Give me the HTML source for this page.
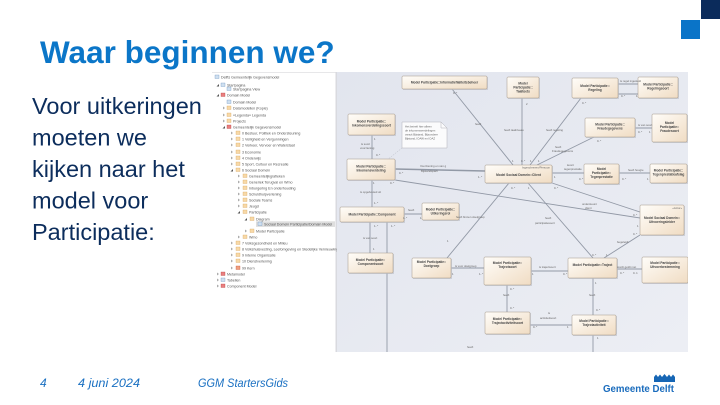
<!DOCTYPE html>
<html><head><meta charset="utf-8"><style>
html,body{margin:0;padding:0;background:#fff;}
body{width:720px;height:405px;overflow:hidden;}
svg{display:block;}
.t{font-family:"Liberation Sans",Arial,sans-serif;}
.tr{font-family:"Liberation Sans",Arial,sans-serif;font-size:3.6px;fill:#555;}
.nt{font-family:"Liberation Sans",Arial,sans-serif;font-size:3.2px;font-weight:bold;fill:#444;text-anchor:middle;}
.el{font-family:"Liberation Sans",Arial,sans-serif;font-size:2.8px;fill:#666;}
.e{stroke:#9299a6;stroke-width:0.9;fill:none;}
</style></head><body>
<svg width="720" height="405" viewBox="0 0 720 405" xmlns="http://www.w3.org/2000/svg">
<defs>
<linearGradient id="ng" x1="0" y1="0" x2="1" y2="1"><stop offset="0" stop-color="#fffdf9"/><stop offset="1" stop-color="#f0dcc3"/></linearGradient>
<linearGradient id="bg" x1="0" y1="0" x2="1" y2="1"><stop offset="0" stop-color="#e2e5ee"/><stop offset="1" stop-color="#eceef4"/></linearGradient>
</defs>
<rect width="720" height="405" fill="#fff"/>
<rect x="701" y="0" width="19" height="19" fill="#0b2b5b"/>
<rect x="681" y="20" width="19" height="19" fill="#0a74c8"/>
<text class="t" x="40" y="63" font-size="31.5" font-weight="bold" fill="#0b76c8">Waar beginnen we?</text>
<g class="t" font-size="23.5" fill="#0c2d5c">
<text x="32" y="114">Voor uitkeringen</text>
<text x="32" y="145.5">moeten we</text>
<text x="32" y="177">kijken naar het</text>
<text x="32" y="208.5">model voor</text>
<text x="32" y="240">Participatie:</text>
</g>
<g class="t" font-size="12" font-style="italic" fill="#1a70c2">
<text x="40" y="387">4</text>
<text x="78" y="387" textLength="62" lengthAdjust="spacingAndGlyphs">4 juni 2024</text>
<text x="198" y="387" textLength="90" lengthAdjust="spacingAndGlyphs">GGM StartersGids</text>
</g>
<text class="t" x="603" y="392" font-size="10" font-weight="bold" fill="#1a6cbd" textLength="71" lengthAdjust="spacingAndGlyphs">Gemeente Delft</text>
<path d="M654,382 V377 L656,374.5 L658,377 L660,374.5 L662,377 L664.5,374 L667,377 L669,374.5 L671,377 L673,374.5 L675,377 V382 Z" fill="#1666b5"/>

<!-- screenshot: tree panel -->
<rect x="212" y="72" width="124" height="280" fill="#fff"/>
<line x1="212" y1="72.5" x2="336" y2="72.5" stroke="#d0d0d4" stroke-width="0.6"/>
<rect x="335.5" y="72" width="2" height="280" fill="#d9dadf"/>
<rect x="256" y="221.3" width="79" height="5.6" fill="#dedede"/>

<g>
<rect x="215" y="75" width="4" height="3.5" fill="#cfe0f0" stroke="#5a86b8" stroke-width="0.3"/>
<polygon points="219,84 219,86.5 216.5,86.5" fill="#555"/><rect x="221" y="83" width="4" height="3.5" fill="#cfe0f0" stroke="#5a86b8" stroke-width="0.3"/>
<rect x="227" y="87" width="4" height="3.5" fill="#cfe0f0" stroke="#5a86b8" stroke-width="0.3"/>
<polygon points="219,94 219,96.5 216.5,96.5" fill="#555"/><rect x="221" y="93" width="4" height="3.5" fill="#e98080" stroke="#b03030" stroke-width="0.3"/>
<rect x="227" y="100" width="4" height="3.5" fill="#cfe0f0" stroke="#5a86b8" stroke-width="0.3"/>
<polygon points="223,106.5 225,108 223,109.5" fill="#aaa"/><rect x="227" y="106" width="4" height="3.5" fill="#f7d9a8" stroke="#d49a4f" stroke-width="0.3"/>
<polygon points="223,113.5 225,115 223,116.5" fill="#aaa"/><rect x="227" y="113" width="4" height="3.5" fill="#f7d9a8" stroke="#d49a4f" stroke-width="0.3"/>
<polygon points="223,119.5 225,121 223,122.5" fill="#aaa"/><rect x="227" y="119" width="4" height="3.5" fill="#f7d9a8" stroke="#d49a4f" stroke-width="0.3"/>
<polygon points="225,126 225,128.5 222.5,128.5" fill="#555"/><rect x="227" y="125" width="4" height="3.5" fill="#e98080" stroke="#b03030" stroke-width="0.3"/>
<g fill="#aaa">
<polygon points="231,131.5 233,133 231,134.5"/><polygon points="231,137.5 233,139 231,140.5"/><polygon points="231,143.5 233,145 231,146.5"/><polygon points="231,150.5 233,152 231,153.5"/><polygon points="231,156.5 233,158 231,159.5"/><polygon points="231,162.5 233,164 231,165.5"/>
<polygon points="238,174.5 240,176 238,177.5"/><polygon points="238,180.5 240,182 238,183.5"/><polygon points="238,186.5 240,188 238,189.5"/><polygon points="238,192.5 240,194 238,195.5"/><polygon points="238,198.5 240,200 238,201.5"/><polygon points="238,204.5 240,206 238,207.5"/>
<polygon points="245,229.5 247,231 245,232.5"/><polygon points="238,235.5 240,237 238,238.5"/>
<polygon points="231,241.5 233,243 231,244.5"/><polygon points="231,247.5 233,249 231,250.5"/><polygon points="231,253.5 233,255 231,256.5"/><polygon points="231,259.5 233,261 231,262.5"/><polygon points="231,266.5 233,268 231,269.5"/>
<polygon points="217,272.5 219,274 217,275.5"/><polygon points="217,278.5 219,280 217,281.5"/><polygon points="217,284.5 219,286 217,287.5"/>
</g>
<g fill="#555"><polygon points="233,169 233,171.5 230.5,171.5"/><polygon points="240,211 240,213.5 237.5,213.5"/><polygon points="247,218 247,220.5 244.5,220.5"/></g>
<g fill="#f7d9a8" stroke="#d49a4f" stroke-width="0.3">
<rect x="236" y="131" width="4" height="3.5"/><rect x="236" y="137" width="4" height="3.5"/><rect x="236" y="143" width="4" height="3.5"/><rect x="236" y="150" width="4" height="3.5"/><rect x="236" y="156" width="4" height="3.5"/><rect x="236" y="162" width="4" height="3.5"/><rect x="236" y="168" width="4" height="3.5"/>
<rect x="243" y="174" width="4" height="3.5"/><rect x="243" y="180" width="4" height="3.5"/><rect x="243" y="186" width="4" height="3.5"/><rect x="243" y="192" width="4" height="3.5"/><rect x="243" y="198" width="4" height="3.5"/><rect x="243" y="204" width="4" height="3.5"/><rect x="243" y="210" width="4" height="3.5"/>
<rect x="250" y="217" width="4" height="3.5"/><rect x="250" y="229" width="4" height="3.5"/><rect x="243" y="235" width="4" height="3.5"/>
<rect x="236" y="241" width="4" height="3.5"/><rect x="236" y="247" width="4" height="3.5"/><rect x="236" y="253" width="4" height="3.5"/><rect x="236" y="259" width="4" height="3.5"/>
</g>
<rect x="236" y="266" width="4" height="3.5" fill="#f0a080" stroke="#c04020" stroke-width="0.3"/>
<rect x="258" y="222" width="4" height="3.5" fill="#cfe0f0" stroke="#5a86b8" stroke-width="0.3"/>
<rect x="221" y="272" width="4" height="3.5" fill="#e98080" stroke="#b03030" stroke-width="0.3"/>
<rect x="221" y="278" width="4" height="3.5" fill="#cfe0f0" stroke="#5a86b8" stroke-width="0.3"/>
<rect x="221" y="284" width="4" height="3.5" fill="#e98080" stroke="#b03030" stroke-width="0.3"/>
</g>
<g class="tr">
<text x="221" y="78.3">Delfts Gemeentelijk Gegevensmodel</text>
<text x="227" y="86.3">Startpagina</text>
<text x="233" y="90.3">Startpagina View</text>
<text x="227" y="96.3">Domain Model</text>
<text x="233" y="103.3">Domain Model</text>
<text x="233" y="109.3">Datamodellen (Kopie)</text>
<text x="233" y="116.3">«Legenda» Legenda</text>
<text x="233" y="122.3">Projects</text>
<text x="233" y="128.3">Gemeentelijk Gegevensmodel</text>
<text x="242" y="134.3">0 Bestuur, Politiek en Ondersteuning</text>
<text x="242" y="140.3">1 Veiligheid en Vergunningen</text>
<text x="242" y="146.3">2 Verkeer, Vervoer en Waterstaat</text>
<text x="242" y="153.3">3 Economie</text>
<text x="242" y="159.3">4 Onderwijs</text>
<text x="242" y="165.3">5 Sport, Cultuur en Recreatie</text>
<text x="242" y="171.3">6 Sociaal Domein</text>
<text x="249" y="177.3">Gemeentelijkgrafieken</text>
<text x="249" y="183.3">Generiek Terugval en Wmo</text>
<text x="249" y="189.3">Inburgering En onderhouding</text>
<text x="249" y="195.3">Schuldhulpverlening</text>
<text x="249" y="201.3">Sociale Teams</text>
<text x="249" y="207.3">Jeugd</text>
<text x="249" y="213.3">Participatie</text>
<text x="256" y="220.3">Diagram</text>
<text x="264" y="225.3">Sociaal Domein Participatie/Domain Model</text>
<text x="256" y="232.3">Model Participatie</text>
<text x="249" y="238.3">Wmo</text>
<text x="242" y="244.3">7 Volksgezondheid en Milieu</text>
<text x="242" y="250.3">8 Volkshuisvesting, Leefomgeving en Stedelijke Vernieuwing</text>
<text x="242" y="256.3">9 Interne Organisatie</text>
<text x="242" y="262.3">10 Dienstverlening</text>
<text x="242" y="269.3">99 Kern</text>
<text x="227" y="275.3">Metamodel</text>
<text x="227" y="281.3">Tabellen</text>
<text x="227" y="287.3">Component Model</text>
</g>

<!-- diagram -->
<svg x="337" y="72" width="351" height="280" viewBox="337 72 351 280" overflow="hidden">
<rect x="337" y="72" width="351" height="280" fill="url(#bg)"/>
<g class="e">
<line x1="452" y1="89" x2="513" y2="165"/>
<line x1="522" y1="98" x2="522" y2="165"/>
<line x1="581" y1="98" x2="530" y2="165"/>
<line x1="618" y1="84" x2="638" y2="84"/>
<line x1="618" y1="94" x2="638" y2="94"/>
<line x1="594" y1="137" x2="537" y2="165"/>
<line x1="635" y1="128" x2="652" y2="128"/>
<line x1="372" y1="135" x2="372" y2="159"/>
<line x1="395" y1="169" x2="485" y2="171" stroke-width="1.4"/>
<line x1="395" y1="180" x2="640" y2="218"/>
<line x1="372" y1="180" x2="372" y2="207"/>
<line x1="552" y1="173" x2="584" y2="173"/>
<line x1="619" y1="173" x2="650" y2="173"/>
<line x1="552" y1="183" x2="640" y2="212"/>
<line x1="509" y1="183" x2="447" y2="258"/>
<line x1="528" y1="183" x2="593" y2="258"/>
<line x1="404" y1="214" x2="422" y2="214"/>
<line x1="370" y1="222" x2="370" y2="253"/>
<line x1="387" y1="222" x2="387" y2="352"/>
<line x1="451" y1="268" x2="484" y2="268"/>
<line x1="531" y1="271" x2="568" y2="271"/>
<line x1="617" y1="269" x2="642" y2="269"/>
<line x1="640" y1="235" x2="604" y2="258"/>
<line x1="507" y1="285" x2="507" y2="312"/>
<line x1="593" y1="278" x2="593" y2="315"/>
<line x1="530" y1="325" x2="572" y2="325"/>
<line x1="593" y1="335" x2="593" y2="352"/>
</g>
<line x1="402" y1="148" x2="387" y2="160" stroke="#b8bcc6" stroke-width="0.5" stroke-dasharray="1.5,1"/>

<g fill="#c3c6cf" opacity="0.7">
<rect x="403" y="77" width="85" height="13"/><rect x="508" y="78" width="32" height="21"/><rect x="573" y="79" width="46" height="20"/><rect x="639" y="78" width="40" height="21"/>
<rect x="349" y="115" width="47" height="21"/><rect x="586" y="119" width="50" height="19"/><rect x="653" y="115" width="35" height="28"/>
<rect x="348" y="160" width="48" height="21"/><rect x="486" y="166" width="67" height="18"/><rect x="585" y="165" width="35" height="20"/><rect x="651" y="165" width="37" height="19"/>
<rect x="341" y="208" width="64" height="15"/><rect x="423" y="204" width="37" height="17"/><rect x="641" y="206" width="44" height="30"/>
<rect x="349" y="254" width="45" height="20"/><rect x="413" y="259" width="39" height="20"/><rect x="485" y="258" width="47" height="28"/><rect x="569" y="259" width="49" height="20"/><rect x="643" y="258" width="46" height="26"/>
<rect x="486" y="313" width="45" height="22"/><rect x="573" y="316" width="44" height="20"/>
</g>
<g fill="url(#ng)" stroke="#a29688" stroke-width="0.5">
<rect x="402" y="76" width="85" height="13" rx="1"/><rect x="507" y="77" width="32" height="21" rx="1"/><rect x="572" y="78" width="46" height="20" rx="1"/><rect x="638" y="77" width="40" height="21" rx="1"/>
<rect x="348" y="114" width="47" height="21" rx="1"/><rect x="585" y="118" width="50" height="19" rx="1"/><rect x="652" y="114" width="35" height="28" rx="1"/>
<rect x="347" y="159" width="48" height="21" rx="1"/><rect x="485" y="165" width="67" height="18" rx="1"/><rect x="584" y="164" width="35" height="20" rx="1"/><rect x="650" y="164" width="37" height="19" rx="1"/>
<rect x="340" y="207" width="64" height="15" rx="1"/><rect x="422" y="203" width="37" height="17" rx="1"/><rect x="640" y="205" width="44" height="30" rx="1"/>
<rect x="348" y="253" width="45" height="20" rx="1"/><rect x="412" y="258" width="39" height="20" rx="1"/><rect x="484" y="257" width="47" height="28" rx="1"/><rect x="568" y="258" width="49" height="20" rx="1"/><rect x="642" y="257" width="46" height="26" rx="1"/>
<rect x="485" y="312" width="45" height="22" rx="1"/><rect x="572" y="315" width="44" height="20" rx="1"/>
</g>
<path d="M402,122 H441 L447,128 V148 H402 Z" fill="#fbfbfc" stroke="#b0b0b8" stroke-width="0.5"/>
<path d="M441,122 V128 H447" fill="none" stroke="#b0b0b8" stroke-width="0.5"/>
<g class="el" font-size="2.6">
<text x="405" y="127.5">Het betreft hier alleen</text>
<text x="405" y="131.5">de inkomensverdelingen</text>
<text x="405" y="135.5">vanuit Bijstand, Bijzondere</text>
<text x="405" y="139.5">Bijstand, IOAW en IOAZ</text>
</g>

<g class="nt">
<text x="444.5" y="83.7">Model Participatie::Informatieflaliteitsbeheer</text>
<text x="523" y="84.7">Model</text><text x="523" y="88.7">Participatie::</text><text x="523" y="92.7">Taaltoets</text>
<text x="595" y="87.2">Model Participatie::</text><text x="595" y="91.2">Regeling</text>
<text x="658" y="85.7">Model Participatie::</text><text x="658" y="89.7">Regelingsoort</text>
<text x="371.5" y="122.7">Model Participatie::</text><text x="371.5" y="126.7">Inkomensverdelingssoort</text>
<text x="610" y="125.7">Model Participatie::</text><text x="610" y="129.7">Fraudegegevens</text>
<text x="669.5" y="124.2">Model</text><text x="669.5" y="128.2">Participatie::</text><text x="669.5" y="132.2">Fraudesoort</text>
<text x="371" y="167.7">Model Participatie::</text><text x="371" y="171.7">Inkomensverdeling</text>
<text x="518.5" y="176">Model Sociaal Domein::Client</text>
<text x="601.5" y="170.2">Model</text><text x="601.5" y="174.2">Participatie::</text><text x="601.5" y="178.2">Tegenprestatie</text>
<text x="668.5" y="171.7">Model Participatie::</text><text x="668.5" y="175.7">Tegenprestatieafslag</text>
<text x="372" y="215.7">Model Participatie::Component</text>
<text x="440.5" y="210.7">Model Participatie::</text><text x="440.5" y="214.7">Uitkeringsrol</text>
<text x="662" y="219.2">Model Sociaal Domein::</text><text x="662" y="223.2">Uitvoeringsleider</text>
<text x="370.5" y="261.2">Model Participatie::</text><text x="370.5" y="265.2">Componentsoort</text>
<text x="431.5" y="263">Model Participatie::</text><text x="431.5" y="267">Doelgroep</text>
<text x="507.5" y="264">Model Participatie::</text><text x="507.5" y="268">Trajectsoort</text>
<text x="592.5" y="266">Model Participatie::Traject</text>
<text x="665" y="264">Model Participatie::</text><text x="665" y="268">Uitvoerbestemming</text>
<text x="507.5" y="320">Model Participatie::</text><text x="507.5" y="324">Trajectactiviteitsoort</text>
<text x="594" y="322">Model Participatie::</text><text x="594" y="326">Trajectactiviteit</text>
</g>
<g class="el">
<text x="550" y="168.5" text-anchor="end">Ingeschreven/Persoon</text>
<text x="682" y="209" text-anchor="end">«Actor»</text>
<text x="453" y="94">0..*</text>
<text x="475" y="125">heeft</text>
<text x="526" y="105">2</text>
<text x="504" y="131">heeft taalniveau</text>
<text x="546" y="131">heeft regeling</text>
<text x="582" y="104">0..*</text>
<text x="620" y="82">is regel ingesteld</text>
<text x="621" y="97">0..*</text><text x="636" y="97">1</text>
<text x="512" y="162">1</text><text x="521" y="162">0..*</text><text x="530" y="162">1</text><text x="538" y="162">1</text>
<text x="555" y="148">heeft</text><text x="552" y="152">Fraudegegevens</text>
<text x="597" y="142">0..*</text>
<text x="638" y="126">is van soort</text>
<text x="638" y="133">0..*</text><text x="649" y="133">1</text>
<text x="374" y="140">1</text>
<text x="361" y="145">is soort</text><text x="360" y="149">voorziening</text>
<text x="376" y="156">0..*</text>
<text x="420" y="167">Voorziening en van g</text><text x="421" y="172">Bijstandsparti</text>
<text x="399" y="174">0..*</text><text x="478" y="178">1..*</text>
<text x="567" y="166">levert</text><text x="564" y="170">tegenprestatie</text>
<text x="554" y="178">1</text><text x="579" y="180">0..*</text>
<text x="628" y="171">heeft hoogte</text>
<text x="622" y="180">0..*</text><text x="647" y="180">1</text>
<text x="373" y="184">1</text><text x="390" y="184">0..*</text>
<text x="360" y="193">is opgebouwd uit</text>
<text x="374" y="204">1..*</text>
<text x="511" y="189">0..*</text><text x="528" y="189">1</text><text x="554" y="189">0..*</text>
<text x="582" y="205">ondersteunt</text><text x="585" y="209">client</text>
<text x="633" y="216">0..*</text><text x="637" y="227">1</text>
<text x="408" y="211">heeft</text>
<text x="403" y="219">1..*</text><text x="420" y="219">1</text>
<text x="456" y="218">heeft binnen doelgroep</text>
<text x="545" y="219">heeft</text><text x="535" y="224">participatiesoort</text>
<text x="374" y="227">1..*</text><text x="391" y="227">1..*</text>
<text x="363" y="239">is van soort</text>
<text x="373" y="250">1</text>
<text x="447" y="242">1</text>
<text x="617" y="243">begeleidt</text>
<text x="633" y="235">0..*</text>
<text x="592" y="256">0..*</text><text x="606" y="256">1</text>
<text x="455" y="267">is voor doelgroep</text>
<text x="452" y="275">1</text><text x="479" y="275">1..*</text>
<text x="539" y="268">is trajectsoort</text>
<text x="532" y="275">1</text><text x="563" y="275">0..*</text>
<text x="617" y="268">wordt geldt met</text>
<text x="620" y="274">0..*</text><text x="633" y="274">0..1</text>
<text x="510" y="290">0..*</text><text x="503" y="296">heeft</text><text x="510" y="309">0..*</text>
<text x="595" y="284">1</text><text x="589" y="296">heeft</text><text x="596" y="311">0..*</text>
<text x="548" y="314">is</text><text x="540" y="319">activiteitsoort</text>
<text x="533" y="328">0..*</text><text x="567" y="328">1</text>
<text x="597" y="339">1</text>
<text x="467" y="348">heeft</text>
</g>
</svg>
</svg>
</body></html>
